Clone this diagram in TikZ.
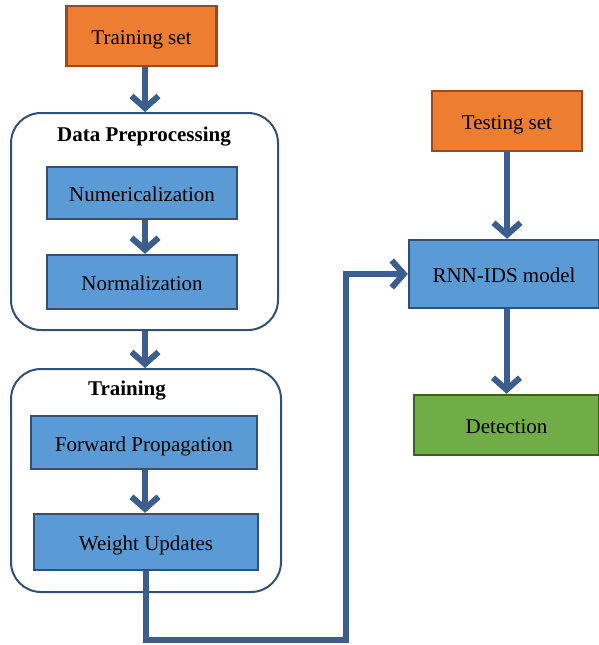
\documentclass[tikz,border=0pt]{standalone}
\usepackage{fontspec}
\setmainfont{Liberation Serif}
\usepackage{tikz}
\usetikzlibrary{arrows, arrows.meta, positioning}
\definecolor{boxorange}{RGB}{237, 125, 49}
\definecolor{borderbrown}{RGB}{150, 75, 30}
\definecolor{boxblue}{RGB}{91, 155, 213}
\definecolor{borderblue}{RGB}{50, 80, 115}
\definecolor{boxgreen}{RGB}{112, 173, 71}
\definecolor{bordergreen}{RGB}{60, 95, 40}
\definecolor{arrowblue}{RGB}{59, 94, 140}

\begin{document}
\begin{tikzpicture}[x=1pt, y=-1pt, font=\fontsize{21}{25}\selectfont,
  block/.style={rectangle, draw=borderblue, fill=boxblue, line width=2.5pt, inner sep=0pt, text height=21pt, text depth=4pt, minimum width=190pt, minimum height=52pt},
  setblock/.style={block, draw=borderbrown, fill=boxorange, minimum width=150pt, minimum height=60pt},
  container/.style={rectangle, draw=borderblue, line width=2pt, rounded corners=30pt, inner sep=0pt},
  title/.style={font=\fontsize{21}{25}\selectfont\bfseries},
  line/.style={draw=arrowblue, line width=6pt, -{Straight Barb[length=12pt, width=27pt]}}]

  \useasboundingbox (0,0) rectangle (599,645);

  % left column
  \node [setblock] (trainset) at (141.5,36) {Training set};
  \node [container, minimum width=267pt, minimum height=217pt] (prep) at (144.5,221.5) {};
  \node [title] (preptitle) at (144,137) {Data Preprocessing};
  \node [block] (numer) at (142,193) {Numericalization};
  \node [block, minimum height=54pt] (norm) at (142,282) {Normalization};
  \node [container, minimum width=270pt, minimum height=223pt] (train) at (146,480.5) {};
  \node [title] (traintitle) at (127,391) {Training};
  \node [block, minimum width=226pt, minimum height=53pt] (forward) at (144,442.5) {Forward Propagation};
  \node [block, minimum width=224pt, minimum height=56pt] (weight) at (146,542) {Weight Updates};

  % right column
  \node [setblock] (testset) at (507,121) {Testing set};
  \node [block, minimum width=190pt, minimum height=68pt] (rnn) at (504,274) {RNN-IDS model};
  \node [block, draw=bordergreen, fill=boxgreen, minimum width=185pt, minimum height=60pt] (detect) at (506.5,425) {Detection};

  \coordinate (low) at (146,640);
  \coordinate (turn) at (346,640);

  \draw [line] (trainset.south -| 145,0) -- (prep.north -| 145,0);
  \draw [line] (numer.south -| 145,0) -- (norm.north -| 145,0);
  \draw [line] (prep.south -| 145,0) -- (train.north -| 145,0);
  \draw [line] (forward.south -| 145,0) -- (weight.north -| 145,0);
  \draw [line] (weight.south) -- (low) -- (turn) -- (turn |- rnn.west) -- (rnn.west);
  \draw [line] (testset.south) -- (rnn.north -| testset.south);
  \draw [line] (rnn.south -| detect.north) -- (detect.north);

\end{tikzpicture}
\end{document}
